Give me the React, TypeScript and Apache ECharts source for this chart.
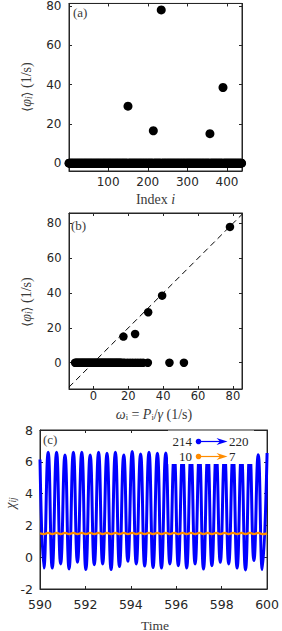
import React, { useEffect, useRef } from "react";
import * as echarts from "echarts";

// ---------- data ----------
const nodeCount = 437;
const lockedNodes = [150, 214, 234, 357, 390];
const lockedFreq = [29, 16.5, 78, 15, 38.5];
const lockedOmega = [31.4, 23.9, 78.3, 17.2, 39.4];
const driftOmega = [
  -10.5, -10, -9.5, -9, -8.5, -8, -7.5, -7, -6.5, -6, -5.5, -5, -4.5, -4, -3.5, -3, -2.5, -2,
  -1.5, -1, -0.5, 0, 0.5, 1, 1.5, 2, 2.5, 3, 3.5, 4, 4.5, 5, 5.5, 6, 6.5, 7, 7.5, 8, 8.5, 9,
  9.5, 10, 10.5, 11, 11.5, 12, 12.5, 13, 13.5, 14, 14.5, 15, 15.5, 16, 17, 18, 19.5, 21, 22.5,
  24, 25.5, 27, 28.5, 31.2, 43.6, 51.9,
];
const aTicksX = [100, 200, 300, 400];
const aTicksY = [0, 20, 40, 60, 80];
const bTicks = [0, 20, 40, 60, 80];

const timeStamps = [
  590.0, 590.17, 590.36, 590.54, 590.73, 590.91, 591.1, 591.28, 591.47, 591.65, 591.84, 592.02,
  592.21, 592.39, 592.58, 592.76, 592.95, 593.13, 593.32, 593.5, 593.69, 593.87, 594.06, 594.24,
  594.43, 594.61, 594.8, 594.98, 595.17, 595.35, 595.54, 595.72, 595.91, 596.09, 596.28, 596.46,
  596.65, 596.83, 597.02, 597.2, 597.39, 597.57, 597.76, 597.94, 598.13, 598.31, 598.5, 598.68,
  598.87, 599.05, 599.24, 599.42, 599.61, 599.79, 600.0,
];
const chi214to220 = [
  6.15, -0.68, 6.6, -0.68, 6.6, -0.42, 6.43, -0.74, 6.6, -0.32, 6.6, -0.78, 6.43, -0.47, 6.6,
  -0.42, 6.53, -0.78, 6.6, -0.59, 6.43, -0.26, 6.64, -0.42, 6.49, -0.56, 6.6, -0.65, 6.53, -0.68,
  6.55, -0.42, 6.5, -0.53, 6.5, -0.68, 6.5, -0.42, 6.5, -0.74, 6.5, -0.53, 6.5, -0.32, 6.5,
  -0.42, 6.5, -0.68, 6.5, -0.8, 6.6, -0.21, 6.45, -0.78, 6.55,
];
const chi10to7 = [
  1.5, 1.45, 1.53, 1.45, 1.53, 1.45, 1.53, 1.45, 1.53, 1.45, 1.53, 1.45, 1.53, 1.45, 1.53, 1.45,
  1.53, 1.45, 1.53, 1.45, 1.53, 1.45, 1.53, 1.45, 1.53, 1.45, 1.53, 1.45, 1.53, 1.45, 1.53, 1.45,
  1.53, 1.45, 1.53, 1.45, 1.53, 1.45, 1.53, 1.45, 1.53, 1.45, 1.53, 1.45, 1.53, 1.45, 1.53, 1.45,
  1.53, 1.45, 1.53, 1.45, 1.53, 1.45, 1.5,
];
const cTicksX = [590, 592, 594, 596, 598, 600];
const cTicksY = [-2, 0, 2, 4, 6, 8];
const legendRows = [
  { from: "214", to: "220", color: "#0000ff" },
  { from: "10", to: "7", color: "#ff8c00" },
];

// ---------- styles ----------
const INK = "#262626";
const TITLE = "#3a3a3a";
const SERIF = "'Liberation Serif', 'DejaVu Serif', serif";
const SANS = "'DejaVu Sans', sans-serif";

function axis(
  gridIndex: number,
  min: number,
  max: number,
  ticks: number[],
  position: string,
  labels: boolean,
  fontSize = 12,
  margin = 7
) {
  return {
    type: "value",
    gridIndex,
    min,
    max,
    position,
    axisLine: { show: true, onZero: false, lineStyle: { color: INK, width: 1 } },
    axisTick: { show: true, inside: true, length: 3, customValues: ticks, lineStyle: { color: INK, width: 1 } },
    axisLabel: {
      show: labels,
      customValues: ticks,
      color: INK,
      fontFamily: SANS,
      fontSize,
      margin,
    },
    splitLine: { show: false },
  };
}

const subRich = {
  it: { fontFamily: SERIF, fontStyle: "italic", fontSize: 14, fill: TITLE },
  sub: { fontFamily: SERIF, fontStyle: "italic", fontSize: 9.5, fill: TITLE, padding: [6, 0, 0, 0] },
  n: { fontFamily: SERIF, fontSize: 14, fill: TITLE },
  s: { fontFamily: "'DejaVu Sans', sans-serif", fontSize: 12.5, fill: TITLE },
};

function textEl(text: string, x: number, y: number, opts: any = {}) {
  return {
    type: "text",
    x,
    y,
    z: 100,
    rotation: opts.rotation || 0,
    style: {
      text,
      fill: opts.fill || TITLE,
      font: opts.font || `13.5px ${SERIF}`,
      align: opts.align || "center",
      verticalAlign: opts.verticalAlign || "middle",
      rich: opts.rich,
    },
  };
}

export default function App() {
  const ref = useRef<HTMLDivElement>(null);

  useEffect(() => {
    if (!ref.current) return;
    const chart = echarts.init(ref.current, undefined, { renderer: "svg" });

    const panelA: number[][] = [];
    for (let i = 1; i <= nodeCount; i++) {
      const k = lockedNodes.indexOf(i);
      panelA.push([i, k >= 0 ? lockedFreq[k] : 0]);
    }
    const panelB: number[][] = driftOmega.map((w) => [w, 0]);
    lockedOmega.forEach((w, k) => panelB.push([w, lockedFreq[k]]));

    const blue = timeStamps.map((t, k) => [t, chi214to220[k]]);
    const orange = timeStamps.map((t, k) => [t, chi10to7[k]]);

    const graphics: any[] = [];
    // panel labels
    graphics.push(textEl("(a)", 73, 12, { align: "left", font: `13px ${SERIF}` }));
    graphics.push(textEl("(b)", 71, 225, { align: "left", font: `13px ${SERIF}` }));
    graphics.push(textEl("(c)", 43, 439, { align: "left", font: `13px ${SERIF}` }));
    // axis titles
    graphics.push(textEl("{n|Index }{it|i}", 155.5, 199.5, { rich: subRich }));
    graphics.push(
      textEl("{s|⟨}{it|φ̇}{sub|i}{s|⟩}{n| (1/s)}", 26, 87, { rich: subRich, rotation: Math.PI / 2 })
    );
    graphics.push(
      textEl("{s|⟨}{it|φ̇}{sub|i}{s|⟩}{n| (1/s)}", 26, 302, { rich: subRich, rotation: Math.PI / 2 })
    );
    graphics.push(
      textEl("{it|ω}{n|ᵢ = }{it|P}{n|ᵢ/}{it|γ}{n| (1/s)}", 154, 414, { rich: subRich })
    );
    graphics.push(textEl("{it|χ}{sub|ij}", 10, 503, { rich: subRich, rotation: Math.PI / 2 }));
    graphics.push(textEl("Time", 155, 625));

    // legend of panel (c)
    graphics.push({
      type: "rect",
      z: 90,
      shape: { x: 168, y: 430.5, width: 86, height: 33.5 },
      style: { fill: "#ffffff" },
    });
    legendRows.forEach((row, r) => {
      const y = r === 0 ? 441.5 : 456.5;
      graphics.push(textEl(row.from, 192, y, { align: "right", font: `13px ${SERIF}`, fill: INK }));
      graphics.push({
        type: "line",
        z: 100,
        shape: { x1: 198.5, y1: y, x2: 222, y2: y },
        style: { stroke: row.color, lineWidth: 1.2 },
      });
      graphics.push({
        type: "circle",
        z: 101,
        shape: { cx: 198.5, cy: y, r: 2.8 },
        style: { fill: row.color },
      });
      graphics.push({
        type: "polygon",
        z: 101,
        shape: { points: [[227.5, y], [216.5, y - 3.6], [220, y], [216.5, y + 3.6]] },
        style: { fill: row.color },
      });
      graphics.push(textEl(row.to, 229, y, { align: "left", font: `13px ${SERIF}`, fill: INK }));
    });

    chart.setOption({
      animation: false,
      backgroundColor: "#ffffff",
      grid: [
        { left: 69, top: 1, width: 173, height: 170, show: true, borderColor: INK, borderWidth: 1 },
        { left: 69, top: 213, width: 173, height: 176, show: true, borderColor: INK, borderWidth: 1 },
        { left: 40, top: 430, width: 230.5, height: 159, show: true, borderColor: INK, borderWidth: 1 },
      ],
      xAxis: [
        axis(0, 1, 438, aTicksX, "bottom", true, 12, 5),
        axis(0, 1, 438, aTicksX, "top", false),
        axis(1, -14, 85.2, bTicks, "bottom", true, 11.5, 1),
        axis(1, -14, 85.2, bTicks, "top", false),
        axis(2, 590, 600, cTicksX, "bottom", true, 12.5, 9),
        axis(2, 590, 600, cTicksX, "top", false),
      ],
      yAxis: [
        axis(0, -4, 81.3, aTicksY, "left", true, 12, 7.5),
        axis(0, -4, 81.3, aTicksY, "right", false),
        axis(1, -15.1, 86, bTicks, "left", true, 11.5, 7.5),
        axis(1, -15.1, 86, bTicks, "right", false),
        axis(2, -2, 8, cTicksY, "left", true, 12.5, 7),
        axis(2, -2, 8, cTicksY, "right", false),
      ],
      series: [
        {
          type: "scatter",
          xAxisIndex: 0,
          yAxisIndex: 0,
          data: panelA,
          symbolSize: 9,
          itemStyle: { color: "#000000", opacity: 1 },
          clip: false,
        },
        {
          type: "line",
          xAxisIndex: 2,
          yAxisIndex: 2,
          data: [
            [-14, -14],
            [85.2, 85.2],
          ],
          symbol: "none",
          lineStyle: { color: "#000000", width: 1, type: [6, 4] },
        },
        {
          type: "scatter",
          xAxisIndex: 2,
          yAxisIndex: 2,
          data: panelB,
          symbolSize: 8.5,
          itemStyle: { color: "#000000", opacity: 1 },
        },
        {
          type: "line",
          xAxisIndex: 4,
          yAxisIndex: 4,
          data: blue,
          symbol: "none",
          smooth: 0.5,
          lineStyle: { color: "#0000ff", width: 3 },
          clip: true,
        },
        {
          type: "line",
          xAxisIndex: 4,
          yAxisIndex: 4,
          data: orange,
          symbol: "none",
          smooth: 0.5,
          lineStyle: { color: "#ff8c00", width: 2.2 },
          clip: true,
        },
      ],
      graphic: graphics,
    });

    return () => chart.dispose();
  }, []);

  return (
    <div
      ref={ref}
      style={{ position: "fixed", left: 0, top: 0, width: 282, height: 631, background: "#fff" }}
    />
  );
}
